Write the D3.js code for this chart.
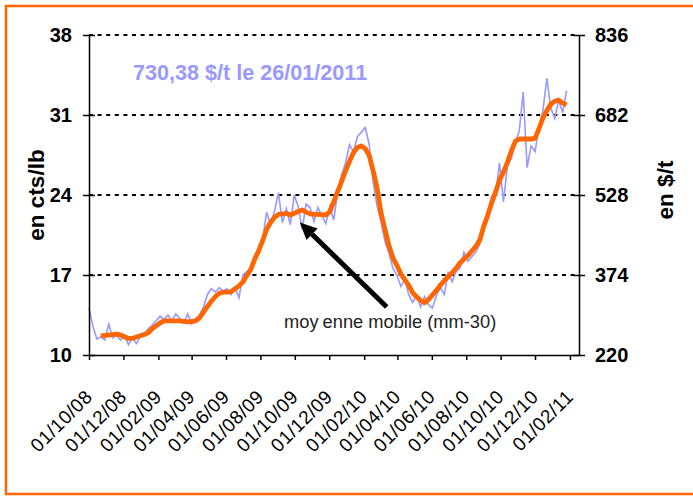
<!DOCTYPE html>
<html>
<head>
<meta charset="utf-8">
<script src="https://cdn.jsdelivr.net/npm/d3@7"></script>
<style>
  body { margin: 0; background: #fff; }
  text { font-family: "Liberation Sans", Arial, sans-serif; }
</style>
</head>
<body>
<svg id="chart" width="693" height="496"></svg>
<script>
// weekly observations (cts/lb)
const semaines = [
  "2008-10-01","2008-10-08","2008-10-15","2008-10-22","2008-10-29","2008-11-05","2008-11-12","2008-11-19","2008-11-26",
  "2008-12-03","2008-12-10","2008-12-17","2008-12-24","2008-12-31",
  "2009-01-07","2009-01-14","2009-01-21","2009-01-28","2009-02-04","2009-02-11","2009-02-18","2009-02-25",
  "2009-03-04","2009-03-11","2009-03-18","2009-03-25","2009-04-01","2009-04-08","2009-04-15","2009-04-22","2009-04-29",
  "2009-05-06","2009-05-13","2009-05-20","2009-05-27","2009-06-03","2009-06-10","2009-06-17","2009-06-24",
  "2009-07-01","2009-07-08","2009-07-15","2009-07-22","2009-07-29","2009-08-05","2009-08-12","2009-08-19","2009-08-26",
  "2009-09-02","2009-09-09","2009-09-16","2009-09-23","2009-09-30","2009-10-07","2009-10-14","2009-10-21","2009-10-28",
  "2009-11-04","2009-11-11","2009-11-18","2009-11-25","2009-12-02","2009-12-09","2009-12-16","2009-12-23","2009-12-30",
  "2010-01-06","2010-01-13","2010-01-20","2010-01-27","2010-02-03","2010-02-10","2010-02-17","2010-02-24",
  "2010-03-03","2010-03-10","2010-03-17","2010-03-24","2010-03-31","2010-04-07","2010-04-14","2010-04-21","2010-04-28",
  "2010-05-05","2010-05-12","2010-05-19","2010-05-26","2010-06-02","2010-06-09","2010-06-16","2010-06-23","2010-06-30",
  "2010-07-07","2010-07-14","2010-07-21","2010-07-28","2010-08-04","2010-08-11","2010-08-18","2010-08-25",
  "2010-09-01","2010-09-08","2010-09-15","2010-09-22","2010-09-29","2010-10-06","2010-10-13","2010-10-20","2010-10-27",
  "2010-11-03","2010-11-10","2010-11-17","2010-11-24","2010-12-01","2010-12-08","2010-12-15","2010-12-22","2010-12-29",
  "2011-01-05","2011-01-12","2011-01-19","2011-01-26"
];

const prix = [
  14.1, 12.5, 11.4, 11.6, 11.3, 12.7, 11.5, 11.7, 11.3, 11.7, 10.9, 11.5, 11.0, 11.6,
  11.8, 12.3, 12.6, 13.0, 13.4, 13.1, 13.5, 13.0, 13.6, 13.2, 12.8, 13.6, 12.7, 13.2, 13.5, 14.2, 15.3,
  15.8, 15.5, 15.9, 15.6, 15.8, 15.3, 15.9, 15.0, 17.0, 17.3, 17.6, 18.7, 18.8, 20.1, 22.5, 21.4, 22.6,
  24.2, 21.6, 22.8, 21.4, 24.0, 23.0, 21.0, 23.2, 22.9, 21.7, 22.9, 22.2, 21.5, 23.0, 21.8, 24.3, 25.8,
  26.8, 28.4, 27.8, 29.1, 29.5, 29.9, 28.4, 25.1, 23.0, 21.6, 19.9, 18.9, 17.6, 17.0, 16.0, 16.6, 15.3,
  14.6, 15.2, 14.2, 15.1, 14.4, 14.1, 15.2, 15.9, 15.3, 17.2, 16.4, 17.3, 17.6, 19.0, 18.2, 18.6, 19.0,
  19.7, 21.0, 22.3, 23.9, 24.0, 26.8, 23.4, 26.5, 27.2, 28.6, 29.6, 33.0, 26.4, 28.3, 27.8, 29.9, 31.4,
  34.2, 31.6, 30.7, 32.3, 31.2, 33.13
];

// moyenne mobile 30 jours
const moyenne = [
  null, null, null, 11.68, 11.72, 11.75, 11.78, 11.82, 11.75, 11.6, 11.45, 11.45, 11.57, 11.68,
  11.8, 11.95, 12.3, 12.55, 12.8, 12.98, 12.98, 12.98, 12.98, 12.98, 12.95, 12.9, 12.93, 12.98, 13.25, 13.75, 14.25,
  14.7, 15.1, 15.4, 15.5, 15.5, 15.55, 15.8, 16.05, 16.4, 16.95, 17.5, 18.4, 19.15, 20.0, 21.0, 21.6, 22.05,
  22.3, 22.35, 22.4, 22.25, 22.4, 22.55, 22.7, 22.5, 22.35, 22.3, 22.3, 22.28, 22.25, 22.55, 23.4, 24.3, 25.2,
  26.1, 26.95, 27.7, 28.15, 28.3, 28.05, 27.45, 26.1, 24.6, 22.4, 20.95, 19.55, 18.5, 17.85, 17.1, 16.6, 16.1,
  15.45, 15.1, 14.78, 14.57, 14.85, 15.25, 15.65, 16.1, 16.5, 16.85, 17.2, 17.6, 18.05, 18.4, 18.7, 19.1, 19.5,
  20.05, 21.25, 22.2, 23.3, 24.25, 25.3, 26.0, 26.85, 27.85, 28.7, 28.9, 28.9, 28.9, 28.9, 28.95, 29.8, 30.75,
  31.4, 31.95, 32.2, 32.3, 32.05, 31.9
];

const ticksGauche = [10, 17, 24, 31, 38];
const ticksDroite = [220, 374, 528, 682, 836];
const ticksDates = [
  "2008-10-01","2008-12-01","2009-02-01","2009-04-01","2009-06-01","2009-08-01","2009-10-01","2009-12-01",
  "2010-02-01","2010-04-01","2010-06-01","2010-08-01","2010-10-01","2010-12-01","2011-02-01"
];

const parse = d3.timeParse("%Y-%m-%d");
const svg = d3.select("#chart");

const x = d3.scaleTime()
  .domain([parse("2008-10-01"), parse("2011-02-17")])
  .range([89, 579]);
const y = d3.scaleLinear().domain([10, 38]).range([355, 35]);
const y2 = d3.scaleLinear().domain([220, 836]).range([355, 35]);

// cadre orange
svg.append("rect")
  .attr("x", 6).attr("y", 6)
  .attr("width", 720).attr("height", 488)
  .attr("fill", "none")
  .attr("stroke", "#FF6600")
  .attr("stroke-width", 2.5);

// grille pointillée
svg.append("g").selectAll("line")
  .data(ticksGauche.filter(d => d > 10))
  .join("line")
  .attr("x1", 89).attr("x2", 579)
  .attr("y1", d => y(d)).attr("y2", d => y(d))
  .attr("stroke", "#000")
  .attr("stroke-width", 2)
  .attr("stroke-dasharray", "4,4.6");

// séries
const data = semaines.map((d, i) => ({ date: parse(d), prix: prix[i], mm: moyenne[i] }));

svg.append("path")
  .datum(data)
  .attr("fill", "none")
  .attr("stroke", "#9999FF")
  .attr("stroke-width", 1.6)
  .attr("d", d3.line().x(d => x(d.date)).y(d => y(d.prix)));

svg.append("path")
  .datum(data)
  .attr("fill", "none")
  .attr("stroke", "#FF6600")
  .attr("stroke-width", 4.8)
  .attr("stroke-linejoin", "round")
  .attr("d", d3.line().defined(d => d.mm != null).x(d => x(d.date)).y(d => y(d.mm)));

// axes
const axeG = svg.append("g")
  .attr("transform", "translate(89,0)")
  .call(d3.axisLeft(y).tickValues(ticksGauche).tickSize(6).tickSizeOuter(0).tickPadding(11));
axeG.selectAll(".tick").append("line").attr("x2", 6).attr("stroke", "#000");

const axeD = svg.append("g")
  .attr("transform", "translate(579,0)")
  .call(d3.axisRight(y2).tickValues(ticksDroite).tickSize(6).tickSizeOuter(0).tickPadding(10));
axeD.selectAll(".tick").append("line").attr("x2", -6).attr("stroke", "#000");

const axeX = svg.append("g")
  .attr("transform", "translate(0,355)")
  .call(d3.axisBottom(x).tickValues(ticksDates.map(parse)).tickSize(5).tickSizeOuter(0)
    .tickFormat(d3.timeFormat("%d/%m/%y")));
axeX.selectAll("text")
  .attr("x", 0).attr("y", 0).attr("dy", 0)
  .attr("text-anchor", "end")
  .attr("transform", "translate(4,43) rotate(-45)")
  .style("font-size", "19px")
  .style("letter-spacing", "0.5px");

svg.selectAll(".domain, .tick line").attr("stroke", "#000").attr("stroke-width", 1.5);
axeG.selectAll("text").style("font-size", "20px").style("font-weight", "bold").attr("fill", "#000");
axeD.selectAll("text").style("font-size", "20px").style("font-weight", "bold").attr("fill", "#000");

// titres des axes
svg.append("text")
  .attr("transform", "translate(44,195) rotate(-90)")
  .attr("text-anchor", "middle")
  .style("font-size", "22.5px").style("font-weight", "bold")
  .text("en cts/lb");

svg.append("text")
  .attr("transform", "translate(673,190) rotate(-90)")
  .attr("text-anchor", "middle")
  .style("font-size", "22.5px").style("font-weight", "bold")
  .text("en $/t");

// dernier cours
svg.append("text")
  .attr("x", 133).attr("y", 80)
  .style("font-size", "21.6px").style("font-weight", "bold")
  .attr("fill", "#9999FF")
  .text("730,38 $/t le 26/01/2011");

// flèche + légende de la moyenne mobile
const pointe = [x(parse("2009-10-10")), y(21.6)];
const queue = [x(parse("2010-03-13")), y(14.2)];
const ang = Math.atan2(pointe[1] - queue[1], pointe[0] - queue[0]);
const lg = 17, lw = 8;
const base = [pointe[0] - lg * Math.cos(ang), pointe[1] - lg * Math.sin(ang)];

svg.append("line")
  .attr("x1", queue[0]).attr("y1", queue[1])
  .attr("x2", base[0]).attr("y2", base[1])
  .attr("stroke", "#000").attr("stroke-width", 5);
svg.append("polygon")
  .attr("points", [
    pointe,
    [base[0] + lw * Math.sin(ang), base[1] - lw * Math.cos(ang)],
    [base[0] - lw * Math.sin(ang), base[1] + lw * Math.cos(ang)]
  ].map(p => p.join(",")).join(" "))
  .attr("fill", "#000");

const note = svg.append("text")
  .attr("x", 284).attr("y", 328)
  .style("font-size", "18.3px")
  .attr("fill", "#222");
note.append("tspan").text("moy");
note.append("tspan").attr("dx", 4).text("enne mobile (mm-30)");
</script>
</body>
</html>
